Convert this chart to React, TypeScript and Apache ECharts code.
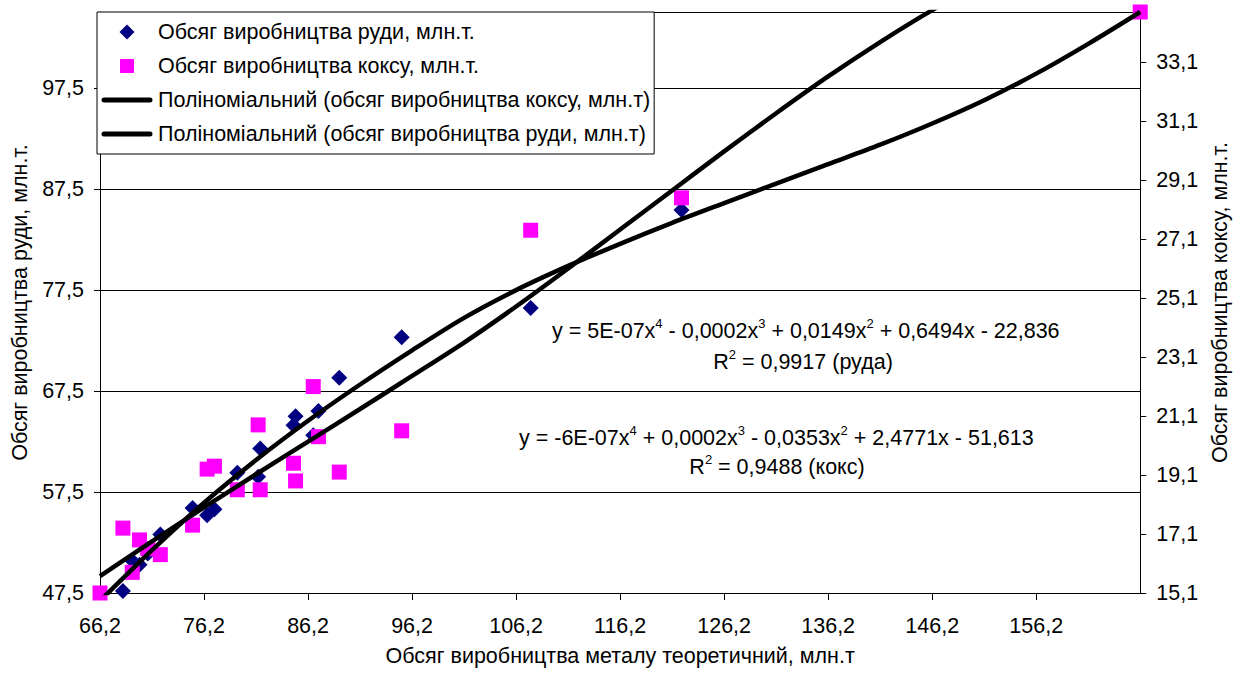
import React, { useEffect, useRef } from 'react';
import * as echarts from 'echarts';

// Theoretical metal output (x), shared by both measured series
const metalOutput = [66.2, 68.4, 69.3, 70.0, 70.8, 72.0, 75.1, 76.5, 77.2, 79.4, 81.4, 81.6, 84.8, 85.0, 86.7, 87.2, 89.2, 95.2, 107.6, 122.1, 166.2];
// Ore output, mln t (left axis); null where the value lies outside the plotted range
const oreOutput = [null, 47.7, 50.7, 50.3, 51.4, 53.3, 55.9, 55.2, 55.8, 59.4, 59.0, 61.8, 64.1, 65.0, 63.1, 65.5, 68.8, 72.8, 75.7, 85.4, null];
// Coke output, mln t (right axis)
const cokeOutput = [15.1, 17.3, 15.8, 16.9, 16.6, 16.4, 17.4, 19.3, 19.4, 18.6, 20.8, 18.6, 19.5, 18.9, 22.1, 20.4, 19.2, 20.6, 27.4, 28.5, 34.8];

// Polynomial trend curves (4th degree), sampled every 5 units of x
const trendX = [66.2, 71.2, 76.2, 81.2, 86.2, 91.2, 96.2, 101.2, 106.2, 111.2, 116.2, 121.2, 126.2, 131.2, 136.2, 141.2, 146.2, 151.2, 156.2, 161.2, 166.2];
const oreTrend = [49.18, 52.61, 55.97, 59.25, 62.48, 65.71, 68.98, 72.28, 75.85, 79.61, 83.47, 87.34, 91.21, 94.98, 98.62, 102.02, 105.18, 108.07, 110.7, 113.09, 115.27];
const cokeTrend = [14.83, 16.55, 18.16, 19.61, 20.94, 22.17, 23.33, 24.43, 25.37, 26.19, 26.94, 27.65, 28.32, 28.98, 29.64, 30.3, 31.02, 31.81, 32.71, 33.72, 34.8];

const ORE = 'Обсяг виробництва руди, млн.т.';
const COKE = 'Обсяг виробництва коксу, млн.т.';
const COKE_TREND = 'Поліноміальний (обсяг виробництва коксу, млн.т)';
const ORE_TREND = 'Поліноміальний (обсяг виробництва руди, млн.т)';

const EQ_ORE = 'y = 5E-07x{s|4} - 0,0002x{s|3} + 0,0149x{s|2} + 0,6494x - 22,836';
const R2_ORE = 'R{s|2} = 0,9917 (руда)';
const EQ_COKE = 'y = -6E-07x{s|4} + 0,0002x{s|3} - 0,0353x{s|2} + 2,4771x - 51,613';
const R2_COKE = 'R{s|2} = 0,9488 (кокс)';

const FONT = '"Liberation Sans", Arial, sans-serif';
const FS = 21.5;
const comma = (v: number) => v.toFixed(1).replace('.', ',');

// Legend icons: the two corner points fix the icon box to 52x16 so the marks keep their shape
const BOX = 'M0,0L0,0M52,16L52,16';
const ICON_DIAMOND = `path://${BOX}M26,0.5L33.5,8L26,15.5L18.5,8Z`;
const ICON_SQUARE = `path://${BOX}M19,1H33V15H19Z`;
const ICON_LINE = `path://${BOX}M3,5.5H49A2.5,2.5,0,0,1,49,10.5H3A2.5,2.5,0,0,1,3,5.5Z`;

const supRich = { s: { fontSize: 13, lineHeight: 14, verticalAlign: 'top', fontFamily: FONT, fill: '#000' } };

function eqText(text: string, x: number, y: number, align: string) {
  return {
    type: 'text',
    x,
    y,
    z: 50,
    style: {
      text,
      rich: supRich,
      fontSize: FS,
      lineHeight: 28,
      fontFamily: FONT,
      fill: '#000',
      align,
      textAlign: align,
      verticalAlign: 'middle',
      textVerticalAlign: 'middle',
    },
  };
}

export default function App() {
  const ref = useRef<HTMLDivElement>(null);

  useEffect(() => {
    document.body.style.margin = '0';
    const chart = echarts.init(ref.current!, null, { renderer: 'svg' });

    const oreData = metalOutput
      .map((x, i) => [x, oreOutput[i]])
      .filter((p) => p[1] !== null);
    const cokeData = metalOutput.map((x, i) => [x, cokeOutput[i]]);
    const oreTrendData = trendX.map((x, i) => [x, oreTrend[i]]);
    const cokeTrendData = trendX.map((x, i) => [x, cokeTrend[i]]);

    const labelStyle = { fontSize: FS, color: '#000', fontFamily: FONT };
    const axisLine = { show: true, lineStyle: { color: '#000', width: 1 } };

    chart.setOption({
      animation: false,
      backgroundColor: '#fff',
      textStyle: { fontFamily: FONT },
      grid: { left: 100, right: 97, top: 12, bottom: 82, containLabel: false },
      legend: {
        orient: 'vertical',
        left: 97,
        top: 12,
        padding: [8, 4, 8, 4],
        itemGap: 10,
        itemWidth: 52,
        itemHeight: 16,
        backgroundColor: '#fff',
        borderColor: '#000',
        borderWidth: 1,
        selectedMode: false,
        z: 20,
        textStyle: { fontSize: FS, color: '#000', fontFamily: FONT, lineHeight: 24 },
        data: [
          { name: ORE, icon: ICON_DIAMOND, itemStyle: { opacity: 1 } },
          { name: COKE, icon: ICON_SQUARE, itemStyle: { opacity: 1 } },
          { name: COKE_TREND, icon: ICON_LINE },
          { name: ORE_TREND, icon: ICON_LINE },
        ],
      },
      xAxis: {
        type: 'value',
        min: 66.2,
        max: 166.2,
        interval: 10,
        name: 'Обсяг виробництва металу теоретичний, млн.т',
        nameLocation: 'middle',
        nameGap: 52,
        nameTextStyle: labelStyle,
        axisLine,
        axisTick: { show: true, length: 7, lineStyle: { color: '#000' } },
        axisLabel: { ...labelStyle, formatter: comma, showMaxLabel: false, margin: 22 },
        splitLine: { show: false },
      },
      yAxis: [
        {
          type: 'value',
          position: 'left',
          min: 47.5,
          max: 105,
          interval: 10,
          name: ORE,
          nameLocation: 'middle',
          nameGap: 66,
          nameTextStyle: labelStyle,
          axisLine,
          axisTick: { show: true, length: 6, lineStyle: { color: '#000' } },
          axisLabel: { ...labelStyle, formatter: comma, showMaxLabel: false, margin: 16 },
          splitLine: { show: true, lineStyle: { color: '#000', width: 1 } },
        },
        {
          type: 'value',
          position: 'right',
          min: 15.1,
          max: 34.8,
          interval: 2,
          name: COKE,
          nameLocation: 'middle',
          nameGap: 66,
          nameTextStyle: labelStyle,
          axisLine,
          axisTick: { show: true, length: 6, lineStyle: { color: '#000' } },
          axisLabel: { ...labelStyle, formatter: comma, showMaxLabel: false, margin: 16 },
          splitLine: { show: false },
        },
      ],
      graphic: [
        eqText(EQ_ORE, 552, 331, 'left'),
        eqText(R2_ORE, 803, 362, 'center'),
        eqText(EQ_COKE, 519, 438, 'left'),
        eqText(R2_COKE, 777, 467, 'center'),
      ],
      series: [
        {
          name: ORE,
          type: 'scatter',
          yAxisIndex: 0,
          symbol: 'diamond',
          symbolSize: 16,
          clip: false,
          itemStyle: { color: '#000080', opacity: 1 },
          data: oreData,
        },
        {
          name: COKE,
          type: 'scatter',
          yAxisIndex: 1,
          symbol: 'rect',
          symbolSize: 15,
          clip: false,
          itemStyle: { color: '#FF00FF', opacity: 1 },
          data: cokeData,
        },
        {
          name: COKE_TREND,
          type: 'line',
          yAxisIndex: 1,
          data: cokeTrendData,
          smooth: 0.3,
          symbol: 'none',
          clip: true,
          lineStyle: { color: '#000', width: 4.5 },
          itemStyle: { color: '#000' },
        },
        {
          name: ORE_TREND,
          type: 'line',
          yAxisIndex: 0,
          data: oreTrendData,
          smooth: 0.3,
          symbol: 'none',
          clip: true,
          lineStyle: { color: '#000', width: 4.5 },
          itemStyle: { color: '#000' },
        },
      ],
    });

    return () => chart.dispose();
  }, []);

  return <div ref={ref} style={{ width: 1239, height: 675 }} />;
}
